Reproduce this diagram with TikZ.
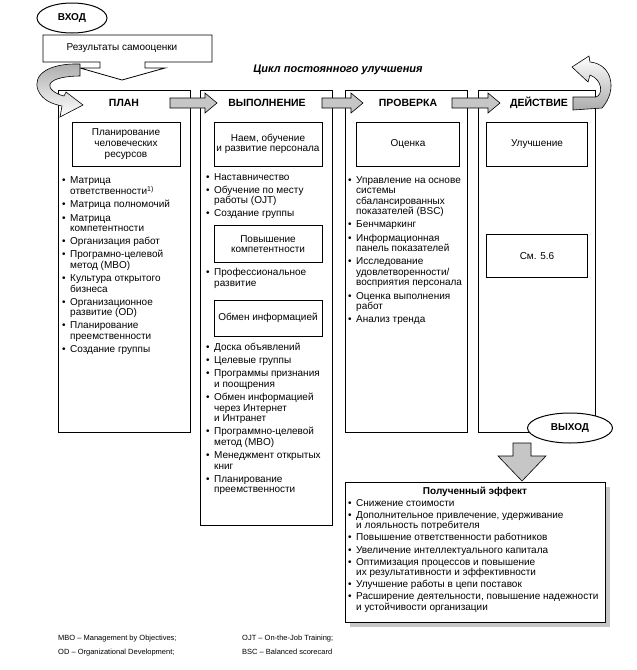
\documentclass[tikz,border=0pt]{standalone}
\usepackage{fontspec}
\setmainfont{Liberation Sans}
\usetikzlibrary{positioning,shapes.geometric}

\newcommand{\itm}{\makebox[8pt][l]{\textbullet}}
\newcommand{\ind}{\hspace*{8pt}}

\begin{document}
\begin{tikzpicture}[
    x=1pt, y=-1pt,
    every node/.style={inner sep=0pt},
    body/.style={font=\fontsize{10}{10.6}\selectfont},
    lst/.style={body, align=left, anchor=north west},
    col/.style={draw, line width=0.8pt},
    ibox/.style={draw, line width=1pt, body, align=center, minimum width=108, minimum height=44},
    hdr/.style={font=\fontsize{10.5}{12}\selectfont\bfseries},
    garrow/.style={draw, line width=0.6pt, fill=gray!45},
    oval/.style={ellipse, draw, line width=1pt, fill=white, minimum width=70, minimum height=30, font=\fontsize{10}{12}\selectfont\bfseries}
]
\useasboundingbox (0,0) rectangle (637,670);

% Columns of the cycle
\draw[col] (58,90) rectangle (190,432);
\draw[col] (200,90) rectangle (332,525);
\draw[col] (345,90) rectangle (467,432);
\draw[col] (478,90) rectangle (595,432);

% Headers
\node[hdr] (plan) at (124,103) {ПЛАН};
\node[hdr] (exec) at (267,103) {ВЫПОЛНЕНИЕ};
\node[hdr] (check) at (408,103) {ПРОВЕРКА};
\node[hdr] (act) at (539,103) {ДЕЙСТВИЕ};

% Arrows between the headers
\foreach \xa/\xb in {170/217, 322/363, 452/500}
  \draw[garrow] (\xa,98) -- (\xb-12,98) -- (\xb-12,93) -- (\xb,103) -- (\xb-12,113)
    -- (\xb-12,108) -- (\xa,108) -- cycle;

% Input
\draw[line width=0.8pt, fill=white] (43,35) -- (212,35) -- (212,62) -- (145,62) -- (145,68)
  -- (165,68) -- (122,80) -- (80,68) -- (100,68) -- (100,62) -- (43,62) -- cycle;
\node[body] (self) at (122,48) {Результаты самооценки};
\node[oval] (in) at (72,18) {ВХОД};
\node[font=\fontsize{11}{13}\selectfont\bfseries\itshape] (title) at (338,70) {Цикл постоянного улучшения};

% Curved arrows
\shadedraw[top color=gray!65, bottom color=white, line width=0.6pt]
  (80,64) .. controls (50,63) and (32,74) .. (38,90) .. controls (42,100) and (52,104) .. (62,106)
  -- (60,117) -- (83,105) -- (66,92) -- (64,96)
  .. controls (55,94) and (48,88) .. (50,84) .. controls (53,78) and (68,76) .. (80,76) -- cycle;
\shadedraw[top color=white, bottom color=gray!65, line width=0.6pt]
  (573,97) -- (596,97) .. controls (603,95) and (603,80) .. (590,75) -- (588,82) -- (572,67)
  -- (589,56) -- (590,62) .. controls (612,64) and (618,90) .. (602,108) -- (573,110) -- cycle;

% PLAN
\node[ibox] (hrp) at (126,144) {Планирование\\человеческих\\ресурсов};
\node[lst] (planlist) at (62,176) {%
\itm Матрица\\
\ind ответственности\textsuperscript{1)}\\[2.5pt]
\itm Матрица полномочий\\[2.5pt]
\itm Матрица\\
\ind компетентности\\[2.5pt]
\itm Организация работ\\[2.5pt]
\itm Програмно-целевой\\
\ind метод (MBO)\\[2.5pt]
\itm Культура открытого\\
\ind бизнеса\\[2.5pt]
\itm Организационное\\
\ind развитие (OD)\\[2.5pt]
\itm Планирование\\
\ind преемственности\\[2.5pt]
\itm Создание группы};

% DO
\node[ibox] (hire) at (268,144) {Наем, обучение\\и развитие персонала};
\node[lst] (hirelist) at (206,173) {%
\itm Наставничество\\[2.5pt]
\itm Обучение по месту\\
\ind работы (OJT)\\[2.5pt]
\itm Создание группы};
\node[ibox, minimum height=37] (comp) at (268,244) {Повышение\\компетентности};
\node[lst] (complist) at (206,268) {%
\itm Профессиональное\\
\ind развитие};
\node[ibox, minimum height=36] (info) at (268,318) {Обмен информацией};
\node[lst] (infolist) at (206,343) {%
\itm Доска объявлений\\[2.5pt]
\itm Целевые группы\\[2.5pt]
\itm Программы признания\\
\ind и поощрения\\[2.5pt]
\itm Обмен информацией\\
\ind через Интернет\\
\ind и Интранет\\[2.5pt]
\itm Программно-целевой\\
\ind метод (MBO)\\[2.5pt]
\itm Менеджмент открытых\\
\ind книг\\[2.5pt]
\itm Планирование\\
\ind преемственности};

% CHECK
\node[ibox, minimum width=103] (grade) at (408,144) {Оценка};
\node[lst] (gradelist) at (348,176) {%
\itm Управление на основе\\
\ind системы\\
\ind сбалансированных\\
\ind показателей (BSC)\\[2.5pt]
\itm Бенчмаркинг\\[2.5pt]
\itm Информационная\\
\ind панель показателей\\[2.5pt]
\itm Исследование\\
\ind удовлетворенности/\\
\ind восприятия персонала\\[2.5pt]
\itm Оценка выполнения\\
\ind работ\\[2.5pt]
\itm Анализ тренда};

% ACT
\node[ibox, minimum width=101] (improve) at (537,144) {Улучшение};
\node[ibox, minimum width=101, minimum height=43] (see) at (537,256) {См. 5.6};

% Output
\node[oval, minimum width=85] (out) at (570,428) {ВЫХОД};
\draw[garrow] (513,443) -- (531,443) -- (531,456) -- (546,456) -- (522,481) -- (498,456)
  -- (513,456) -- cycle;

% Effect
\fill[gray!45] (350,487) rectangle (610,627);
\draw[line width=0.8pt, fill=white] (345,482) rectangle (605,622);
\node[font=\fontsize{10}{12}\selectfont\bfseries] (effect) at (475,492) {Полученный эффект};
\node[lst] (effectlist) at (348,499) {%
\itm Снижение стоимости\\[1.5pt]
\itm Дополнительное привлечение, удерживание\\
\ind и лояльность потребителя\\[1.5pt]
\itm Повышение ответственности работников\\[1.5pt]
\itm Увеличение интеллектуального капитала\\[1.5pt]
\itm Оптимизация процессов и повышение\\
\ind их результативности и эффективности\\[1.5pt]
\itm Улучшение работы в цепи поставок\\[1.5pt]
\itm Расширение деятельности, повышение надежности\\
\ind и устойчивости организации};

% Abbreviations
\node[font=\fontsize{7.5}{9}\selectfont, anchor=base west] (mbo) at (58,640) {MBO – Management by Objectives;};
\node[font=\fontsize{7.5}{9}\selectfont, anchor=base west] (od) at (58,654) {OD – Organizational Development;};
\node[font=\fontsize{7.5}{9}\selectfont, anchor=base west] (ojt) at (242,640) {OJT – On-the-Job Training;};
\node[font=\fontsize{7.5}{9}\selectfont, anchor=base west] (bsc) at (242,654) {BSC – Balanced scorecard};

\end{tikzpicture}
\end{document}
